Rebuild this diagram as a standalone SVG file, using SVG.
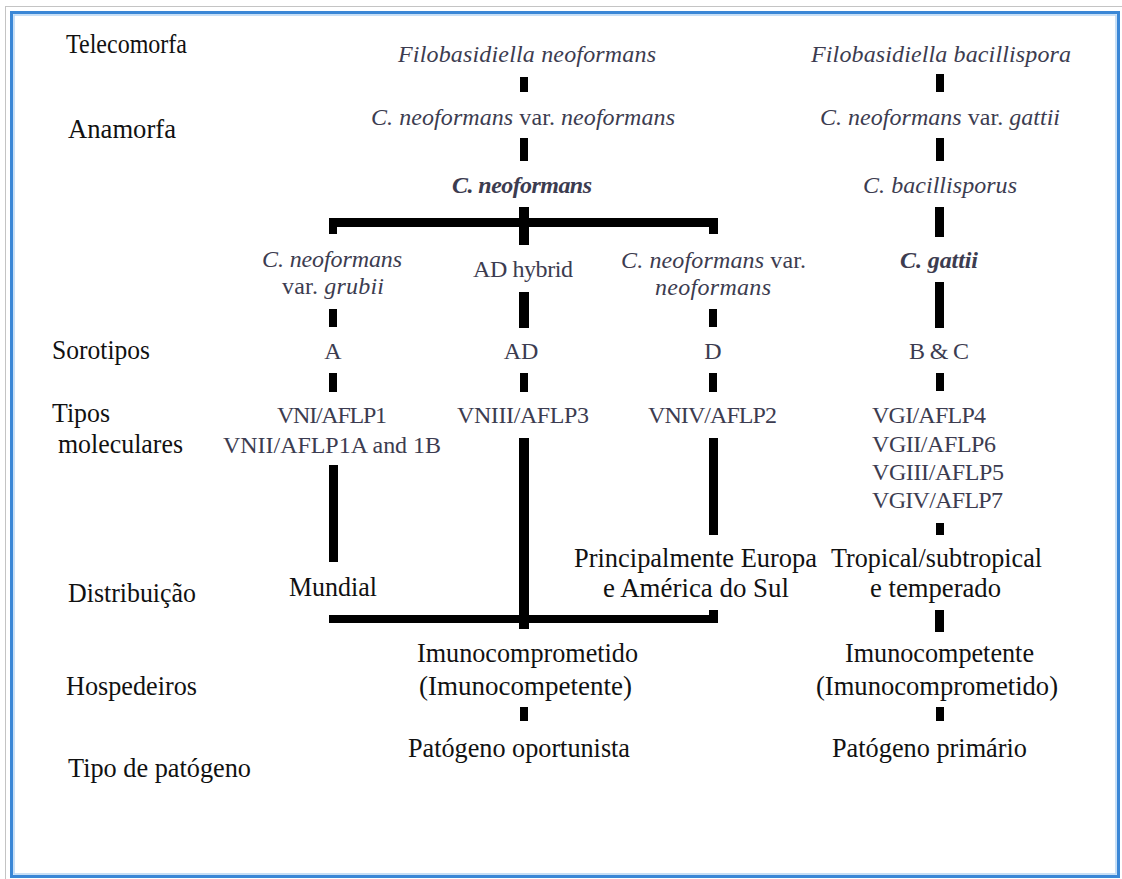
<svg xmlns="http://www.w3.org/2000/svg" width="1122" height="879" viewBox="0 0 1122 879">
<style>
  text { font-family: "Liberation Serif", "Times New Roman", Times, "DejaVu Serif", serif; }
  .lbl { font-size: 27px; fill: #111; }
  .tx { font-size: 24px; fill: #3c3c50; }
  .it { font-style: italic; }
  .bi { font-style: italic; font-weight: bold; }
  .ln { fill: #000; }
</style>
<rect x="0" y="0" width="1122" height="879" fill="#fff"/>
<g id="frame">
  <rect x="5.5" y="6.5" width="1130" height="890" fill="none" stroke="#c4c4c4" stroke-width="1"/>
  <rect x="11.5" y="12.5" width="1107" height="864" fill="none" stroke="#3a87d6" stroke-width="3"/>
  <rect x="14" y="15" width="1102" height="859" fill="none" stroke="#b5d5f3" stroke-width="1.5"/>
</g>

<g id="row-labels">
  <text class="lbl" x="66" y="53" textLength="121" lengthAdjust="spacingAndGlyphs">Telecomorfa</text>
  <text class="lbl" x="68" y="138" textLength="108" lengthAdjust="spacingAndGlyphs">Anamorfa</text>
  <text class="lbl" x="52" y="359" textLength="98" lengthAdjust="spacingAndGlyphs">Sorotipos</text>
  <text class="lbl" x="52" y="422" textLength="58" lengthAdjust="spacingAndGlyphs">Tipos</text>
  <text class="lbl" x="58" y="453" textLength="125" lengthAdjust="spacingAndGlyphs">moleculares</text>
  <text class="lbl" x="68" y="602" textLength="128" lengthAdjust="spacingAndGlyphs">Distribuição</text>
  <text class="lbl" x="66" y="695" textLength="131" lengthAdjust="spacingAndGlyphs">Hospedeiros</text>
  <text class="lbl" x="68" y="777" textLength="183" lengthAdjust="spacingAndGlyphs">Tipo de patógeno</text>
</g>

<g id="connectors">
  <rect class="ln" x="520" y="77" width="8" height="15"/>
  <rect class="ln" x="520" y="138" width="8" height="23"/>
  <rect class="ln" x="519" y="207" width="10" height="38"/>
  <rect class="ln" x="329" y="218" width="389" height="9"/>
  <rect class="ln" x="329" y="218" width="8" height="16"/>
  <rect class="ln" x="709" y="218" width="9" height="16"/>
  <rect class="ln" x="519" y="292" width="10" height="36"/>
  <rect class="ln" x="520" y="373" width="8" height="19"/>
  <rect class="ln" x="519" y="438" width="10" height="191"/>
  <rect class="ln" x="520" y="707" width="8" height="14"/>
  <rect class="ln" x="329" y="309" width="8" height="18"/>
  <rect class="ln" x="329" y="373" width="8" height="19"/>
  <rect class="ln" x="329" y="465" width="9" height="97"/>
  <rect class="ln" x="329" y="615" width="389" height="8"/>
  <rect class="ln" x="709" y="309" width="8" height="18"/>
  <rect class="ln" x="709" y="373" width="8" height="19"/>
  <rect class="ln" x="709" y="438" width="9" height="97"/>
  <rect class="ln" x="709" y="610" width="9" height="13"/>
  <rect class="ln" x="936" y="74" width="8" height="18"/>
  <rect class="ln" x="936" y="138" width="8" height="23"/>
  <rect class="ln" x="935" y="207" width="9" height="30"/>
  <rect class="ln" x="935" y="282" width="9" height="46"/>
  <rect class="ln" x="936" y="373" width="8" height="18"/>
  <rect class="ln" x="936" y="523" width="8" height="12"/>
  <rect class="ln" x="935" y="610" width="9" height="22"/>
  <rect class="ln" x="936" y="707" width="8" height="14"/>
</g>

<g id="n-filo-neo"><text class="tx it" x="398" y="62" textLength="258">Filobasidiella neoformans</text></g>
<g id="n-filo-bac"><text class="tx it" x="811" y="62" textLength="260">Filobasidiella bacillispora</text></g>
<g id="n-var-neo"><text class="tx" x="371" y="125" textLength="304"><tspan class="it">C. neoformans</tspan> var. <tspan class="it">neoformans</tspan></text></g>
<g id="n-var-gattii"><text class="tx" x="820" y="125" textLength="240"><tspan class="it">C. neoformans</tspan> var. <tspan class="it">gattii</tspan></text></g>
<g id="n-cneo"><text class="tx bi" x="452" y="193" textLength="140">C. neoformans</text></g>
<g id="n-cbac"><text class="tx it" x="863" y="193" textLength="154">C. bacillisporus</text></g>
<g id="n-cgattii"><text class="tx bi" x="900" y="268" textLength="78">C. gattii</text></g>

<g id="n-grubii">
  <text class="tx it" x="262" y="267" textLength="140">C. neoformans</text>
  <text class="tx" x="282" y="294" textLength="102">var. <tspan class="it">grubii</tspan></text>
</g>
<g id="n-adhybrid"><text class="tx" x="473" y="277" textLength="100">AD hybrid</text></g>
<g id="n-varneo2">
  <text class="tx" x="621" y="268" textLength="185"><tspan class="it">C. neoformans</tspan> var.</text>
  <text class="tx it" x="655" y="295" textLength="116">neoformans</text>
</g>

<g id="n-sero-a"><text class="tx" x="333" y="359" text-anchor="middle">A</text></g>
<g id="n-sero-ad"><text class="tx" x="521" y="359" text-anchor="middle">AD</text></g>
<g id="n-sero-d"><text class="tx" x="713" y="359" text-anchor="middle">D</text></g>
<g id="n-sero-bc"><text class="tx" x="909" y="359" textLength="60">B &amp; C</text></g>

<g id="n-mol-a">
  <text class="tx" x="277" y="423" textLength="110">VNI/AFLP1</text>
  <text class="tx" x="223" y="453" textLength="218">VNII/AFLP1A and 1B</text>
</g>
<g id="n-mol-ad"><text class="tx" x="457" y="423" textLength="132">VNIII/AFLP3</text></g>
<g id="n-mol-d"><text class="tx" x="648" y="423" textLength="129">VNIV/AFLP2</text></g>
<g id="n-mol-bc">
  <text class="tx" x="872" y="423" textLength="114">VGI/AFLP4</text>
  <text class="tx" x="872" y="452" textLength="124">VGII/AFLP6</text>
  <text class="tx" x="872" y="480" textLength="132">VGIII/AFLP5</text>
  <text class="tx" x="872" y="508" textLength="131">VGIV/AFLP7</text>
</g>

<g id="n-dist-mundial"><text class="lbl" x="289" y="596" textLength="88" lengthAdjust="spacingAndGlyphs">Mundial</text></g>
<g id="n-dist-europa">
  <text class="lbl" x="574" y="567" textLength="243" lengthAdjust="spacingAndGlyphs">Principalmente Europa</text>
  <text class="lbl" x="603" y="597" textLength="186" lengthAdjust="spacingAndGlyphs">e América do Sul</text>
</g>
<g id="n-dist-tropical">
  <text class="lbl" x="831" y="567" textLength="211" lengthAdjust="spacingAndGlyphs">Tropical/subtropical</text>
  <text class="lbl" x="870" y="597" textLength="131" lengthAdjust="spacingAndGlyphs">e temperado</text>
</g>

<g id="n-host-neo">
  <text class="lbl" x="417" y="662" textLength="221" lengthAdjust="spacingAndGlyphs">Imunocomprometido</text>
  <text class="lbl" x="419" y="695" textLength="213" lengthAdjust="spacingAndGlyphs">(Imunocompetente)</text>
</g>
<g id="n-host-gattii">
  <text class="lbl" x="845" y="662" textLength="189" lengthAdjust="spacingAndGlyphs">Imunocompetente</text>
  <text class="lbl" x="816" y="695" textLength="242" lengthAdjust="spacingAndGlyphs">(Imunocomprometido)</text>
</g>
<g id="n-path-neo"><text class="lbl" x="408" y="757" textLength="222" lengthAdjust="spacingAndGlyphs">Patógeno oportunista</text></g>
<g id="n-path-gattii"><text class="lbl" x="832" y="757" textLength="195" lengthAdjust="spacingAndGlyphs">Patógeno primário</text></g>
</svg>
